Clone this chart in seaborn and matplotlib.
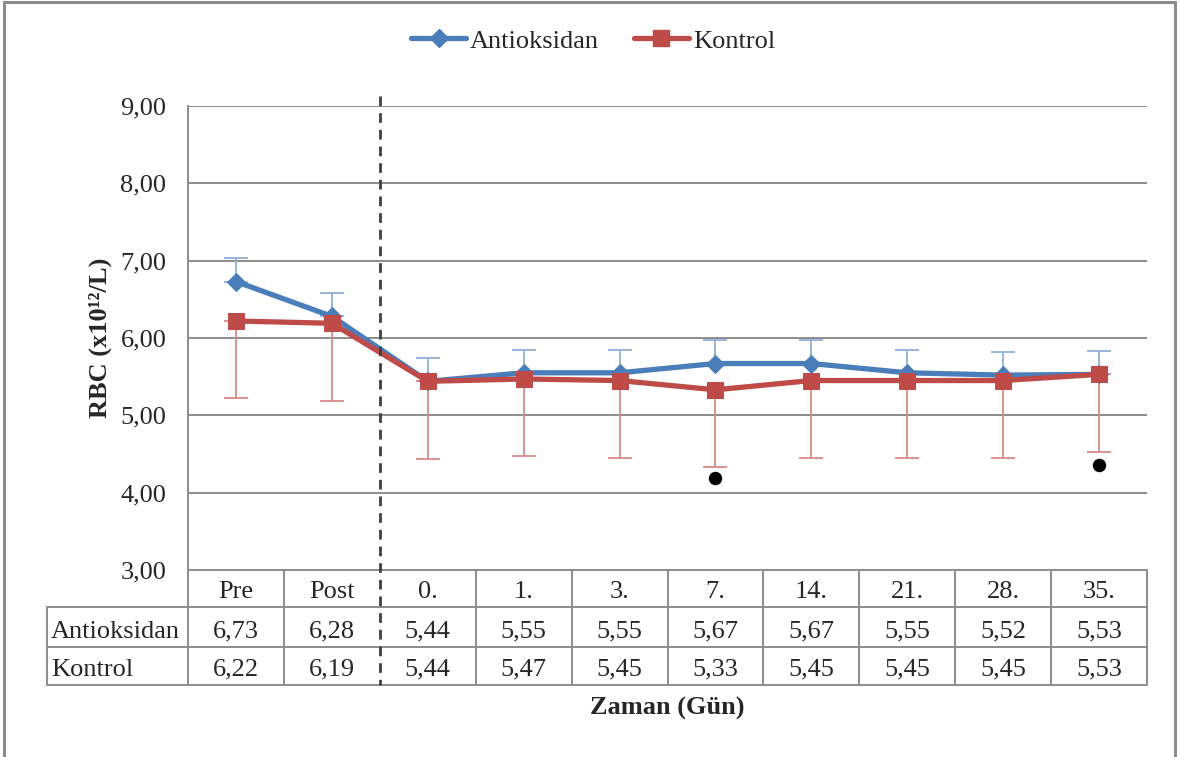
import matplotlib
matplotlib.use("Agg")
import matplotlib.pyplot as plt
import matplotlib.transforms as mtransforms
from matplotlib.lines import Line2D
import seaborn as sns
import pandas as pd

categories = ["Pre", "Post", "0.", "1.", "3.", "7.", "14.", "21.", "28.", "35."]
antioksidan = [6.73, 6.28, 5.44, 5.55, 5.55, 5.67, 5.67, 5.55, 5.52, 5.53]
kontrol = [6.22, 6.19, 5.44, 5.47, 5.45, 5.33, 5.45, 5.45, 5.45, 5.53]
antioksidan_sd = [0.30] * 10
kontrol_sd = [1.00] * 10
sig_categories = ["7.", "35."]
sig_values = [4.19, 4.36]
yticks = [3, 4, 5, 6, 7, 8, 9]

BLUE = "#4A7EBB"
RED = "#BE4B48"
BLUE_ERR = "#8EB0DA"
RED_ERR = "#D98A88"
GRID = "#8C8C8C"

sns.set_theme(style="white")
plt.rcParams["font.family"] = ["Liberation Serif", "DejaVu Serif"]

W, H = 1180, 757
fig = plt.figure(figsize=(W / 100, H / 100), dpi=100)
L, R, T, B = 188, 1147, 106, 570
ax = fig.add_axes([L / W, 1 - B / H, (R - L) / W, (B - T) / H])

idx = list(range(len(categories)))
df = pd.DataFrame({"x": idx * 2,
                   "y": antioksidan + kontrol,
                   "grp": ["Antioksidan"] * 10 + ["Kontrol"] * 10})

# error bars (one-sided)
ax.errorbar(idx, antioksidan, yerr=[[0] * 10, antioksidan_sd], fmt="none",
            ecolor=BLUE_ERR, elinewidth=1.3, capsize=8.5, capthick=1.3, zorder=2)
ax.errorbar(idx, kontrol, yerr=[kontrol_sd, [0] * 10], fmt="none",
            ecolor=RED_ERR, elinewidth=1.3, capsize=8.5, capthick=1.3, zorder=2)

sns.lineplot(data=df[df.grp == "Antioksidan"], x="x", y="y", color=BLUE,
             linewidth=3.8, marker="D", markersize=9, markeredgecolor=BLUE,
             ax=ax, zorder=3, legend=False)
sns.lineplot(data=df[df.grp == "Kontrol"], x="x", y="y", color=RED,
             linewidth=3.8, marker="s", markersize=12, markeredgecolor=RED,
             ax=ax, zorder=4, legend=False)

sig_x = [categories.index(c) for c in sig_categories]
ax.scatter(sig_x, sig_values, s=75, color="black", zorder=5)

fs = 19
ax.set_xlim(-0.5, len(categories) - 0.5)
ax.set_ylim(3, 9)
ax.set_yticks(yticks)
ax.set_yticklabels([f"{v:.2f}".replace(".", ",") for v in yticks], fontsize=fs)
ax.yaxis.grid(True, color=GRID, linewidth=1.4)
ax.set_xticks([])
ax.tick_params(axis="y", length=4.5, color=GRID, width=1.4, pad=11)
for s in ["top", "right", "bottom"]:
    ax.spines[s].set_visible(False)
ax.spines["left"].set_color(GRID)
ax.spines["left"].set_linewidth(1.4)
ax.set_xlabel("")
ax.set_ylabel("RBC (x10¹²/L)", fontsize=fs, fontweight="bold", labelpad=6)

# data table drawn below the axes
trans = mtransforms.blended_transform_factory(ax.transData, fig.transFigure)
def fy(p):
    return 1 - p / H
rows_y = [570, 607, 647, 685]
xl = -0.5 - (L - 47) / ((R - L) / len(categories))
lc = dict(color=GRID, linewidth=1.4, transform=trans, clip_on=False)
ax.add_line(Line2D([-0.5, 9.5], [fy(570), fy(570)], **lc))
for py in rows_y[1:]:
    ax.add_line(Line2D([xl, 9.5], [fy(py), fy(py)], **lc))
ax.add_line(Line2D([xl, xl], [fy(607), fy(685)], **lc))
ax.add_line(Line2D([-0.5, -0.5], [fy(570), fy(685)], **lc))
for i in range(1, len(categories) + 1):
    if i == 2:
        continue
    ax.add_line(Line2D([i - 0.5, i - 0.5], [fy(570), fy(685)], **lc))
# dashed separator between Post and 0.
ax.add_line(Line2D([1.5, 1.5], [fy(96), fy(685)], color="#404040", linewidth=2,
                   linestyle=(0, (3.5, 2.5)), transform=trans, clip_on=False, zorder=6))

for i, c in enumerate(categories):
    ax.text(i, fy(590), c, transform=trans, ha="center", va="center_baseline", fontsize=fs)
    ax.text(i, fy(629), f"{antioksidan[i]:.2f}".replace(".", ","), transform=trans,
            ha="center", va="center_baseline", fontsize=fs)
    ax.text(i, fy(667), f"{kontrol[i]:.2f}".replace(".", ","), transform=trans,
            ha="center", va="center_baseline", fontsize=fs)
fig.text(51 / W, fy(629), "Antioksidan", ha="left", va="center_baseline", fontsize=fs)
fig.text(51 / W, fy(667), "Kontrol", ha="left", va="center_baseline", fontsize=fs)

fig.text(((L + R) / 2) / W, fy(708), "Zaman (Gün)", ha="center", va="center",
         fontsize=fs, fontweight="bold")

# legend
handles = [Line2D([], [], color=BLUE, linewidth=3.8, marker="D", markersize=9),
           Line2D([], [], color=RED, linewidth=3.8, marker="s", markersize=12)]
fig.legend(handles, ["Antioksidan", "Kontrol"], loc="center",
           bbox_to_anchor=(593 / W, fy(41)), ncol=2, frameon=False,
           fontsize=fs, handlelength=2.1, handletextpad=0.15, columnspacing=1.3)

# figure border
bc = dict(color="#8C8C8C", linewidth=2.2, transform=fig.transFigure)
fig.add_artist(Line2D([4 / W, 4 / W], [0, fy(2)], **bc))
fig.add_artist(Line2D([4 / W, 1175 / W], [fy(2), fy(2)], **bc))
fig.add_artist(Line2D([1175 / W, 1175 / W], [0, fy(2)], **bc))

fig.savefig("out.png", dpi=100)
